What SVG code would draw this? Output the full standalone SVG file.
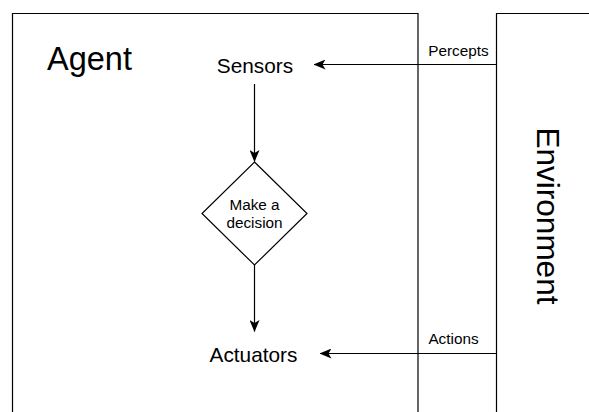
<svg xmlns="http://www.w3.org/2000/svg" width="589" height="412" viewBox="0 0 589 412">
  <style>
    .box { fill: #ffffff; stroke: #000000; stroke-width: 1.2; }
    .edge { fill: none; stroke: #000000; stroke-width: 1.2; }
    .lbl { font-family: "Liberation Sans", Arial, sans-serif; fill: #000000; }
  </style>
  <defs>
    <marker id="arrow" viewBox="0 0 12 10" refX="11.5" refY="5" markerWidth="12" markerHeight="10" markerUnits="userSpaceOnUse" orient="auto">
      <path d="M0,0 L12,5 L0,10 L3,5 Z" fill="#000000"/>
    </marker>
  </defs>
  <rect width="589" height="412" fill="#ffffff"/>

  <!-- Agent container (open at the bottom) -->
  <g id="agent">
    <path class="box" d="M12.5,420 V13.5 H418 V420"/>
    <text class="lbl" x="47" y="70" font-size="32.5">Agent</text>
  </g>

  <!-- Environment container -->
  <g id="environment">
    <path class="box" d="M496.5,420 V13.5 H600"/>
    <text class="lbl" transform="translate(537,216) rotate(90)" text-anchor="middle" font-size="31.5">Environment</text>
  </g>

  <g id="sensors">
    <text class="lbl" x="255" y="73" text-anchor="middle" font-size="20.8">Sensors</text>
  </g>

  <g id="decision">
    <polygon class="box" points="254.5,162 307,213.5 254.5,265 202,213.5"/>
    <text class="lbl" x="254.5" y="210" text-anchor="middle" font-size="15.3">Make a</text>
    <text class="lbl" x="254.5" y="228" text-anchor="middle" font-size="15.3">decision</text>
  </g>

  <g id="actuators">
    <text class="lbl" x="253.5" y="361.5" text-anchor="middle" font-size="20.8">Actuators</text>
  </g>

  <!-- Connectors -->
  <g id="connectors">
    <line class="edge" x1="496.5" y1="64.5" x2="314" y2="64.5" marker-end="url(#arrow)"/>
    <line class="edge" x1="254.5" y1="84" x2="254.5" y2="161.5" marker-end="url(#arrow)"/>
    <line class="edge" x1="254.5" y1="265" x2="254.5" y2="331.5" marker-end="url(#arrow)"/>
    <line class="edge" x1="496.5" y1="353.5" x2="320" y2="353.5" marker-end="url(#arrow)"/>
    <text class="lbl" x="458.5" y="56" text-anchor="middle" font-size="15.3">Percepts</text>
    <text class="lbl" x="453.5" y="344" text-anchor="middle" font-size="15.3">Actions</text>
  </g>
</svg>
